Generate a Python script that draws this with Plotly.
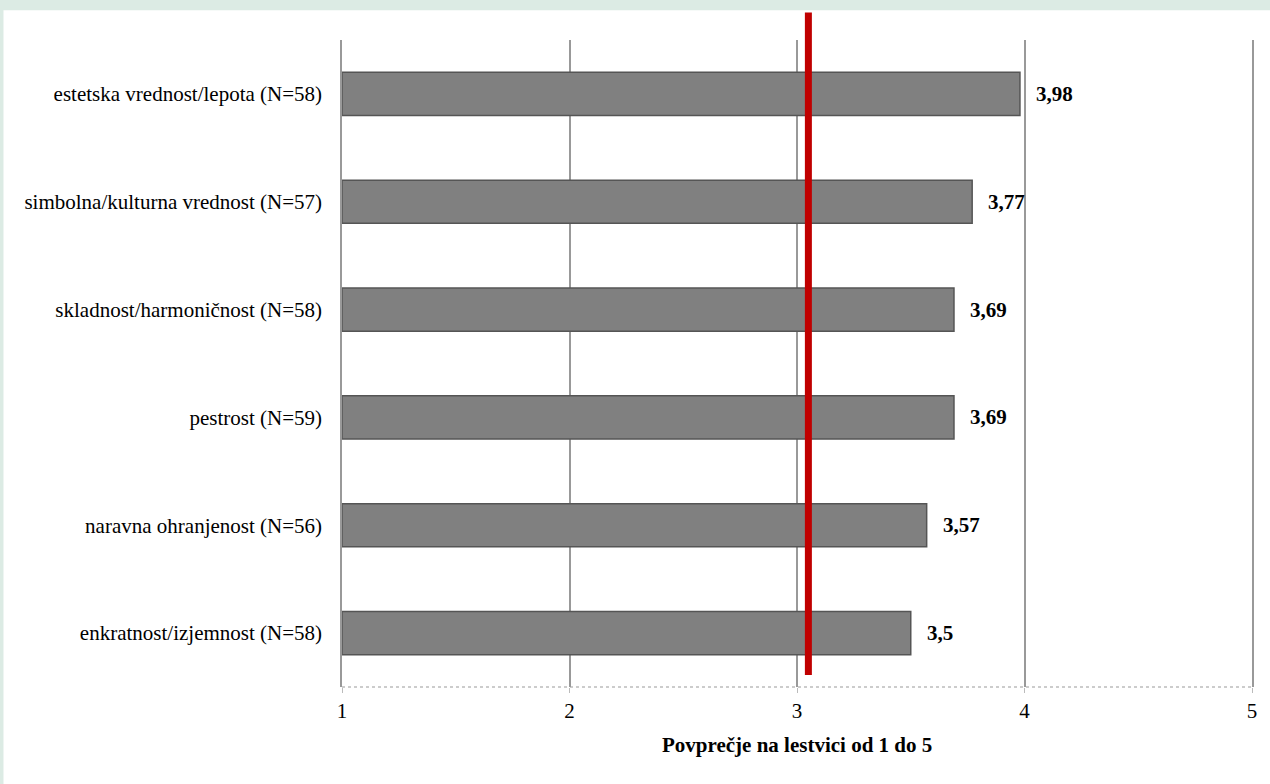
import plotly.graph_objects as go

categories = [
    "estetska vrednost/lepota (N=58)",
    "simbolna/kulturna vrednost (N=57)",
    "skladnost/harmoničnost (N=58)",
    "pestrost (N=59)",
    "naravna ohranjenost (N=56)",
    "enkratnost/izjemnost (N=58)",
]
values = [3.98, 3.77, 3.69, 3.69, 3.57, 3.5]
value_labels = ["3,98", "3,77", "3,69", "3,69", "3,57", "3,5"]
reference_value = 3.05
x_ticks = [1, 2, 3, 4, 5]
x_title = "Povprečje na lestvici od 1 do 5"

FONT = "Liberation Serif"
FS = 21

fig = go.Figure()
fig.add_trace(go.Bar(
    y=categories,
    x=[v - 1 for v in values],
    base=1,
    orientation="h",
    marker=dict(color="#808080", line=dict(color="#555555", width=1.5)),
    width=0.4,
    hoverinfo="skip",
))

for c, v, t in zip(categories, values, value_labels):
    fig.add_annotation(x=v, y=c, text="<b>%s</b>" % t, showarrow=False,
                       xanchor="left", xshift=14,
                       font=dict(family=FONT, size=FS, color="black"))

fig.add_annotation(x=0.5, y=-0.09, xref="paper", yref="paper",
                   text="<b>%s</b>" % x_title, showarrow=False,
                   xanchor="center", yanchor="middle",
                   font=dict(family=FONT, size=FS, color="black"))

shapes = [
    # white panel over textured backdrop
    dict(type="rect", xref="paper", yref="paper", x0=-0.372, x1=1.03,
         y0=-0.16, y1=1.046, fillcolor="white", line=dict(width=0), layer="below"),
    # dotted axis line
    dict(type="line", xref="paper", yref="paper", x0=0, x1=1, y0=0, y1=0,
         line=dict(color="#999999", width=1, dash="dot")),
    # red reference line
    dict(type="line", xref="x", yref="paper", x0=reference_value, x1=reference_value,
         y0=0.0185, y1=1.0425, line=dict(color="#C00000", width=7)),
]

fig.update_layout(
    width=1270, height=784,
    margin=dict(l=342, r=18, t=40, b=97),
    paper_bgcolor="#dcebe4",
    plot_bgcolor="white",
    showlegend=False,
    shapes=shapes,
    bargap=0.6,
    font=dict(family=FONT, size=FS, color="black"),
    xaxis=dict(range=[1, 5], tickvals=x_ticks, ticktext=[str(t) for t in x_ticks],
               showgrid=True, gridcolor="#999999", gridwidth=1.5,
               zeroline=False, showline=False,
               ticks="outside", ticklen=5, tickcolor="#bbbbbb", tickwidth=1,
               tickfont=dict(family=FONT, size=FS, color="black")),
    yaxis=dict(categoryorder="array", categoryarray=categories[::-1],
               showgrid=False, zeroline=False,
               showline=True, mirror=True, linecolor="#999999", linewidth=1.5,
               ticks="outside", ticklen=14, tickcolor="rgba(0,0,0,0)",
               tickfont=dict(family=FONT, size=FS, color="black")),
)

fig.write_html("out.html", config={"displayModeBar": False},
               post_script="document.body.style.margin='0';document.body.style.overflow='hidden';")
